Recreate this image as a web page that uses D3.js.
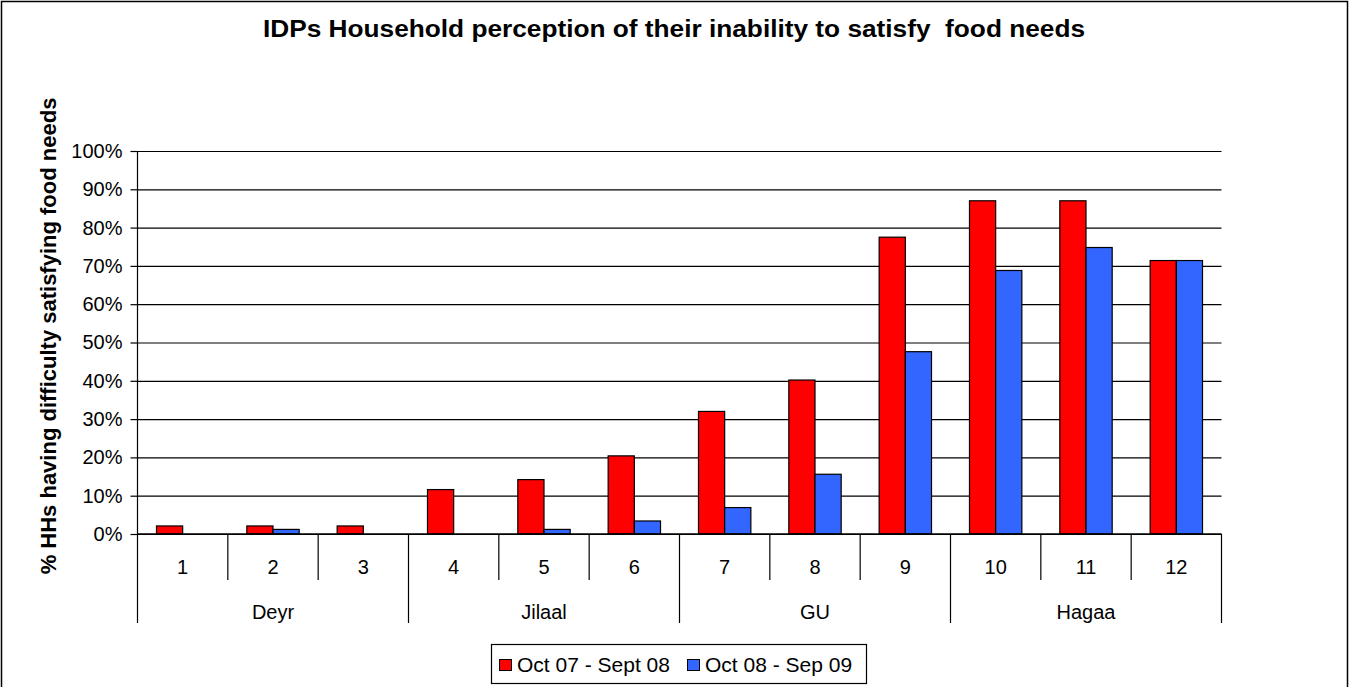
<!DOCTYPE html>
<html>
<head>
<meta charset="utf-8">
<script src="https://cdn.jsdelivr.net/npm/d3@7"></script>
<style>
  html, body { margin: 0; padding: 0; background: #fff; }
  svg { display: block; font-family: Arial, "Liberation Sans", sans-serif; }
</style>
</head>
<body>
<svg id="chart" width="1349" height="687"></svg>
<script>
// Months of the year and the season each belongs to
const months = ["1", "2", "3", "4", "5", "6", "7", "8", "9", "10", "11", "12"];
const seasons = ["Deyr", "Jilaal", "GU", "Hagaa"];
const seasonMonths = [3, 3, 3, 3];

// % of IDP households having difficulty satisfying food needs
const seriesNames = ["Oct 07 - Sept 08", "Oct 08 - Sep 09"];
const year1 = [2.1, 2.1, 2.1, 11.6, 14.2, 20.4, 32.0, 40.2, 77.5, 87.0, 87.0, 71.4];
const year2 = [0, 1.2, 0, 0, 1.2, 3.4, 6.9, 15.6, 47.6, 68.8, 74.8, 71.4];
const seriesColors = ["#FF0000", "#3366FF"];

const yTicks = [0, 10, 20, 30, 40, 50, 60, 70, 80, 90, 100];

const svg = d3.select("#chart");
const W = 1349, H = 687;
const FONT = "Arial, 'Liberation Sans', sans-serif";

const plotLeft = 137.5, plotRight = 1221.5, plotTop = 151, plotBottom = 534;

// frame around the whole chart
svg.append("rect")
  .attr("x", 1.5).attr("y", 1.5)
  .attr("width", W - 3).attr("height", H + 10)
  .attr("fill", "#fff").attr("stroke", "#000").attr("stroke-width", 1.5);

// title
svg.append("text")
  .attr("x", 674).attr("y", 37)
  .attr("text-anchor", "middle")
  .attr("font-size", 23).attr("font-weight", "bold")
  .attr("xml:space", "preserve")
  .attr("textLength", 822).attr("lengthAdjust", "spacingAndGlyphs")
  .text("IDPs Household perception of their inability to satisfy  food needs");

const x = d3.scaleBand().domain(months).range([plotLeft, plotRight]).paddingInner(0).paddingOuter(0);
const y = d3.scaleLinear().domain([0, 100]).range([plotBottom, plotTop]);

// horizontal gridlines
svg.append("g")
  .attr("transform", `translate(${plotLeft},0)`)
  .call(d3.axisLeft(y).tickValues(yTicks).tickSize(-(plotRight - plotLeft)).tickFormat(""))
  .call(g => g.select(".domain").remove())
  .call(g => g.selectAll("line").attr("stroke", "#000").attr("stroke-width", 1.2));

// y axis with ticks and labels
const yAxis = svg.append("g")
  .attr("transform", `translate(${plotLeft},0)`)
  .call(d3.axisLeft(y).tickValues(yTicks).tickSize(7).tickPadding(8).tickFormat(d => d + "%"));
yAxis.select(".domain").remove();
yAxis.selectAll("line").attr("stroke", "#000").attr("stroke-width", 1.2);
yAxis.selectAll("text").attr("font-size", 20).attr("fill", "#000").attr("font-family", FONT);

// bars
const barW = x.bandwidth() / 3.45;
const series = [year1, year2];
series.forEach((vals, si) => {
  svg.append("g").selectAll("rect")
    .data(months.map((m, i) => ({ m, v: vals[i] })).filter(d => d.v > 0))
    .join("rect")
    .attr("x", d => x(d.m) + x.bandwidth() / 2 + (si - 1) * barW)
    .attr("y", d => y(d.v))
    .attr("width", barW)
    .attr("height", d => y(0) - y(d.v))
    .attr("fill", seriesColors[si])
    .attr("stroke", "#000").attr("stroke-width", 1.2);
});

// left axis line, running down through the category area
svg.append("line")
  .attr("x1", plotLeft).attr("x2", plotLeft).attr("y1", plotTop).attr("y2", 623)
  .attr("stroke", "#000").attr("stroke-width", 1.2);

// base axis line
svg.append("line")
  .attr("x1", plotLeft).attr("x2", plotRight).attr("y1", plotBottom).attr("y2", plotBottom)
  .attr("stroke", "#000").attr("stroke-width", 1.4);

// month labels
const xAxis = svg.append("g")
  .attr("transform", `translate(0,${plotBottom})`)
  .call(d3.axisBottom(x).tickSize(0).tickPadding(26));
xAxis.select(".domain").remove();
xAxis.selectAll("text").attr("font-size", 20).attr("fill", "#000").attr("font-family", FONT);

// separators between months; taller ones between seasons
const seasonEdges = d3.cumsum(seasonMonths);
months.forEach((m, i) => {
  if (i === 0) return;
  const isSeasonEdge = seasonEdges.includes(i);
  svg.append("line")
    .attr("x1", x(m)).attr("x2", x(m))
    .attr("y1", plotBottom).attr("y2", isSeasonEdge ? 623 : 580)
    .attr("stroke", "#000").attr("stroke-width", 1.2);
});
svg.append("line")
  .attr("x1", plotRight).attr("x2", plotRight).attr("y1", plotBottom).attr("y2", 623)
  .attr("stroke", "#000").attr("stroke-width", 1.2);

// season labels
let start = 0;
seasons.forEach((s, k) => {
  const first = months[start];
  const last = months[start + seasonMonths[k] - 1];
  const cx = (x(first) + x(last) + x.bandwidth()) / 2;
  svg.append("text")
    .attr("x", cx).attr("y", 619)
    .attr("text-anchor", "middle")
    .attr("font-size", 20)
    .text(s);
  start += seasonMonths[k];
});

// y axis title
svg.append("text")
  .attr("transform", "translate(56,336) rotate(-90)")
  .attr("text-anchor", "middle")
  .attr("font-size", 22).attr("font-weight", "bold")
  .text("% HHs having difficulty satisfying food needs");

// legend
const legend = svg.append("g");
legend.append("rect")
  .attr("x", 491.5).attr("y", 644.5).attr("width", 375).attr("height", 39)
  .attr("fill", "#fff").attr("stroke", "#000").attr("stroke-width", 1.2);
const legendX = [499, 687];
seriesNames.forEach((name, i) => {
  legend.append("rect")
    .attr("x", legendX[i] + 0.5).attr("y", 659.5).attr("width", 12).attr("height", 11)
    .attr("fill", seriesColors[i]).attr("stroke", "#000").attr("stroke-width", 1);
  legend.append("text")
    .attr("x", legendX[i] + 18).attr("y", 672)
    .attr("font-size", 21)
    .text(name);
});
</script>
</body>
</html>
